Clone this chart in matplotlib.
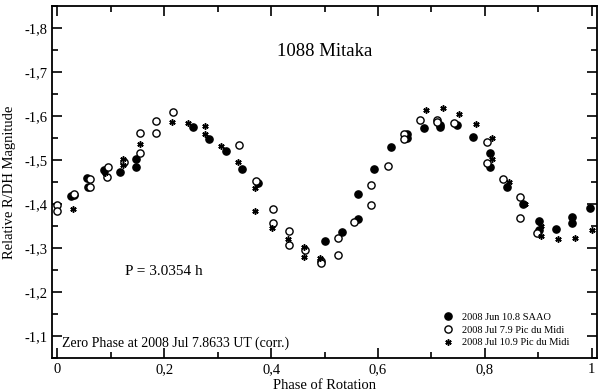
import matplotlib
matplotlib.use("Agg")
import matplotlib.pyplot as plt
from matplotlib.ticker import MultipleLocator, FuncFormatter

# 2008 Jun 10.8 SAAO (filled circles)
saao_phase = [0.026, 0.032, 0.056, 0.057, 0.087, 0.118, 0.148, 0.148, 0.253, 0.284,
              0.315, 0.346, 0.376, 0.500, 0.532, 0.563, 0.562, 0.592, 0.624, 0.655,
              0.655, 0.686, 0.717, 0.717, 0.748, 0.778, 0.810, 0.810, 0.841, 0.871,
              0.902, 0.902, 0.933, 0.964, 0.964, 0.996]
saao_mag = [-1.418, -1.421, -1.460, -1.439, -1.477, -1.473, -1.502, -1.483, -1.576, -1.547,
            -1.520, -1.480, -1.447, -1.316, -1.337, -1.367, -1.423, -1.480, -1.530, -1.558,
            -1.549, -1.572, -1.580, -1.575, -1.580, -1.552, -1.515, -1.483, -1.439, -1.401,
            -1.362, -1.341, -1.343, -1.370, -1.357, -1.392]

# 2008 Jul 7.9 Pic du Midi (open circles)
pdm7_phase = [0.000, 0.000, 0.032, 0.062, 0.062, 0.094, 0.093, 0.125, 0.154, 0.154,
              0.185, 0.185, 0.216, 0.340, 0.371, 0.403, 0.403, 0.433, 0.433, 0.464,
              0.494, 0.494, 0.526, 0.526, 0.556, 0.587, 0.587, 0.619, 0.649, 0.649,
              0.679, 0.711, 0.711, 0.742, 0.805, 0.805, 0.835, 0.866, 0.866, 0.897]
pdm7_mag = [-1.397, -1.383, -1.422, -1.456, -1.439, -1.483, -1.461, -1.495, -1.562, -1.515,
            -1.589, -1.561, -1.608, -1.534, -1.452, -1.389, -1.357, -1.339, -1.306, -1.295,
            -1.270, -1.266, -1.322, -1.284, -1.358, -1.397, -1.443, -1.486, -1.558, -1.547,
            -1.591, -1.592, -1.586, -1.583, -1.541, -1.494, -1.457, -1.415, -1.369, -1.335]

# 2008 Jul 10.9 Pic du Midi (asterisks)
pdm10_phase = [0.029, 0.090, 0.122, 0.122, 0.154, 0.215, 0.245, 0.277, 0.277, 0.307,
               0.338, 0.369, 0.370, 0.401, 0.432, 0.461, 0.461, 0.492, 0.690, 0.721,
               0.752, 0.783, 0.814, 0.814, 0.845, 0.876, 0.906, 0.906, 0.937, 0.968, 1.000]
pdm10_mag = [-1.389, -1.470, -1.502, -1.488, -1.537, -1.586, -1.585, -1.577, -1.560, -1.531,
             -1.495, -1.436, -1.384, -1.346, -1.320, -1.302, -1.280, -1.277, -1.613, -1.619,
             -1.605, -1.582, -1.550, -1.503, -1.449, -1.401, -1.350, -1.327, -1.320, -1.322, -1.340]

plt.rcParams['font.family'] = ['Liberation Serif', 'DejaVu Serif']

fig = plt.figure(figsize=(6, 3.91), dpi=100)
ax = fig.add_axes([0.0867, 0.0844, 0.9083, 0.9003])

ax.plot(saao_phase, saao_mag, 'o', color='black', markersize=5.2, linestyle='none',
        label='2008 Jun 10.8 SAAO')
ax.plot(pdm7_phase, pdm7_mag, 'o', markerfacecolor='white', markeredgecolor='black',
        markeredgewidth=1.0, markersize=5.2, linestyle='none', label='2008 Jul 7.9 Pic du Midi')
ax.plot(pdm10_phase, pdm10_mag, marker=(6, 2, 0), color='black', markersize=4.5,
        markeredgewidth=1.1, linestyle='none', label='2008 Jul 10.9 Pic du Midi')

ax.set_xlim(-0.01, 1.01)
ax.set_ylim(-1.05, -1.85)

ax.xaxis.set_major_locator(MultipleLocator(0.2))
ax.xaxis.set_minor_locator(MultipleLocator(0.1))
ax.yaxis.set_major_locator(MultipleLocator(0.1))
ax.yaxis.set_minor_locator(MultipleLocator(0.05))
comma = FuncFormatter(lambda v, pos: ('%g' % round(v, 2)).replace('.', ','))
ax.xaxis.set_major_formatter(comma)
ax.yaxis.set_major_formatter(comma)

ax.tick_params(which='both', direction='in', top=True, right=True, width=1.2, labelsize=10.5)
ax.tick_params(which='major', length=7)
ax.tick_params(which='minor', length=4)
for s in ax.spines.values():
    s.set_linewidth(1.3)

ax.set_xlabel('Phase of Rotation', fontsize=10.5, labelpad=2)
ax.set_ylabel('Relative R/DH Magnitude', fontsize=10.5, labelpad=6)

ax.text(0.50, 0.872, '1088 Mitaka', transform=ax.transAxes, fontsize=13.5, ha='center', va='center')
ax.text(0.205, 0.245, 'P = 3.0354 h', transform=ax.transAxes, fontsize=11, ha='center', va='center')
ax.text(0.018, 0.043, 'Zero Phase at 2008 Jul 7.8633 UT (corr.)', transform=ax.transAxes,
        fontsize=10, ha='left', va='center')

ax.legend(loc='lower left', bbox_to_anchor=(0.704, 0.01), frameon=False, fontsize=7.5,
          handlelength=1.0, handletextpad=0.8, labelspacing=0.32, borderpad=0.2)

plt.savefig('out.png', dpi=100)
